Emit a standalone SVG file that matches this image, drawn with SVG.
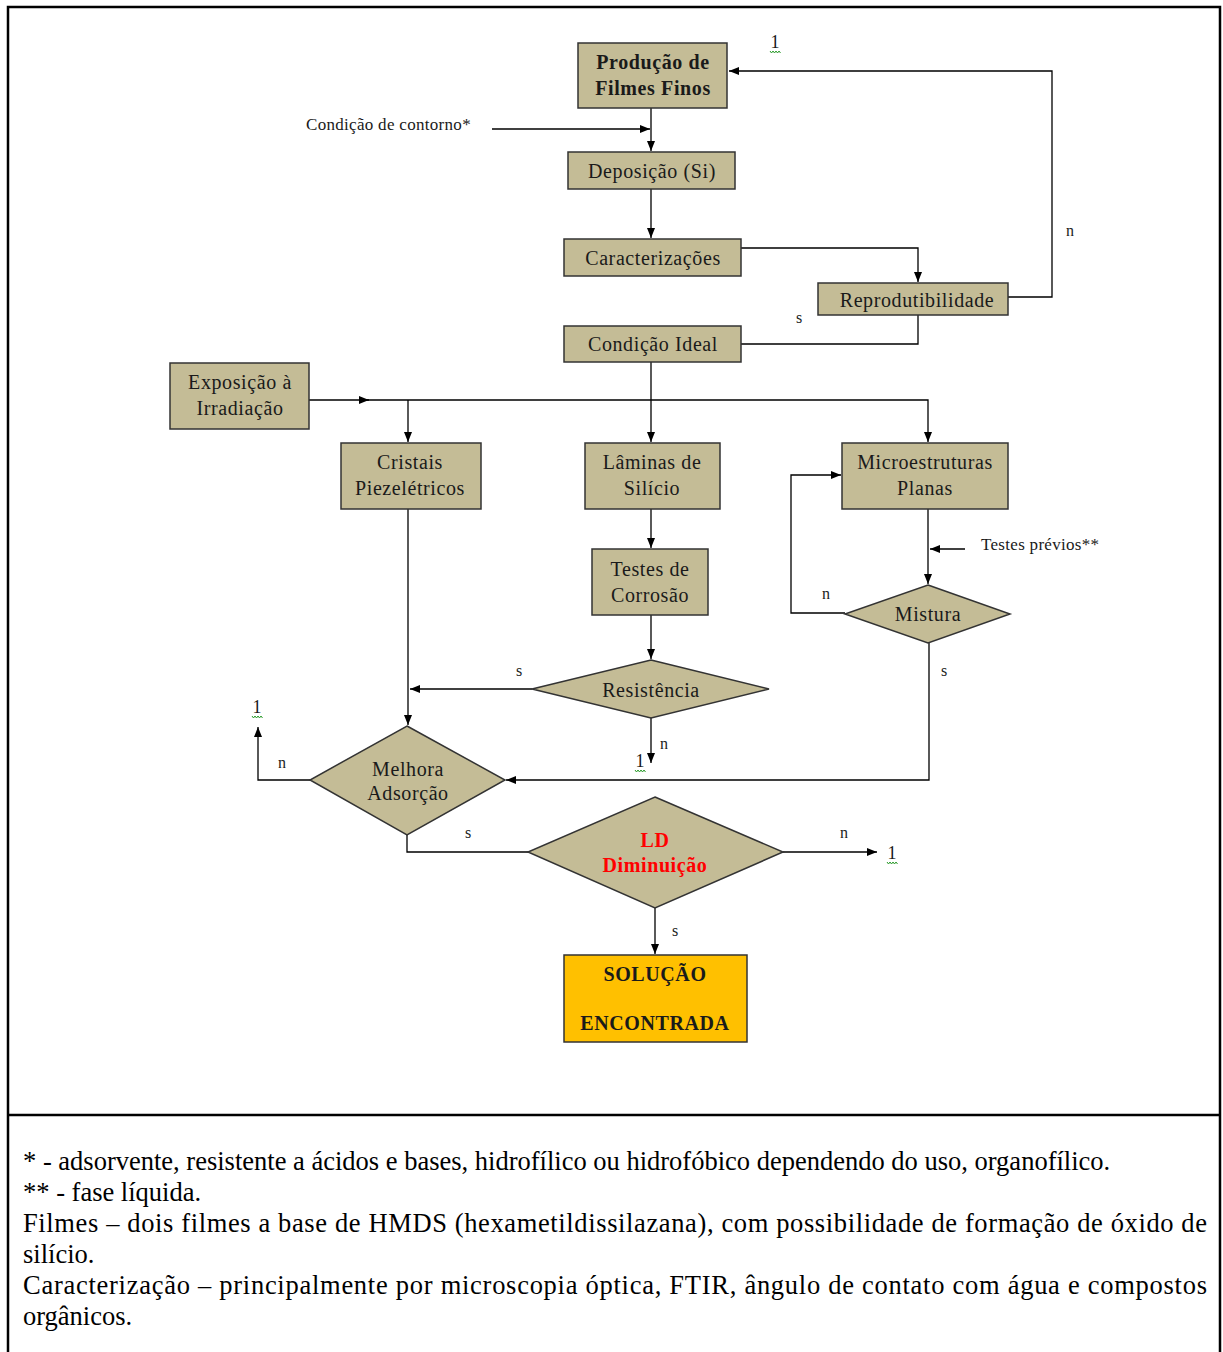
<svg xmlns="http://www.w3.org/2000/svg" width="1223" height="1352" viewBox="0 0 1223 1352">
<style>
.box{fill:#C4BC96;stroke:#333;stroke-width:1.5}
.sol{fill:#FFC000;stroke:#333;stroke-width:1.5}
.t{font-family:"Liberation Serif","Times New Roman",serif;font-size:20px;letter-spacing:0.6px;fill:#1a1a1a;text-anchor:middle}
.b{font-weight:bold}
.red{fill:#FF0000}
.lab{font-family:"Liberation Serif","Times New Roman",serif;font-size:16px;fill:#1a1a1a}
.sm{font-size:17px;letter-spacing:0.3px}
.one{font-family:"Liberation Serif","Times New Roman",serif;font-size:18px;fill:#1a1a1a;text-anchor:middle}
.sq{fill:none;stroke:#2a9a2a;stroke-width:1}
.c{fill:none;stroke:#000;stroke-width:1.3}
.foot{font-family:"Liberation Serif","Times New Roman",serif;font-size:26.5px;fill:#000}
</style>
<defs>
<marker id="ar" viewBox="0 0 10 8" refX="10" refY="4" markerWidth="10" markerHeight="8" markerUnits="userSpaceOnUse" orient="auto">
<path d="M0,0 L10,4 L0,8 Z" fill="#000"/>
</marker>
</defs>
<rect width="1223" height="1352" fill="#fff"/>
<g id="frame" fill="none" stroke="#000" stroke-width="2.5">
<path d="M8,1352 V7 H1220 V1352"/>
<path d="M8,1115 H1220"/>
</g>

<g id="connectors">
<path class="c" d="M492,129 H650" marker-end="url(#ar)"/>
<path class="c" d="M651,108 V151" marker-end="url(#ar)"/>
<path class="c" d="M651,189 V238" marker-end="url(#ar)"/>
<path class="c" d="M741,248 H918 V282" marker-end="url(#ar)"/>
<path class="c" d="M1008,297 H1052 V71 H729" marker-end="url(#ar)"/>
<path class="c" d="M918,315 V344 H741"/>
<path class="c" d="M651,362 V442" marker-end="url(#ar)"/>
<path class="c" d="M309,400 H369" marker-end="url(#ar)"/>
<path class="c" d="M365,400 H928 V442" marker-end="url(#ar)"/>
<path class="c" d="M408,400 V442" marker-end="url(#ar)"/>
<path class="c" d="M651,509 V548" marker-end="url(#ar)"/>
<path class="c" d="M651,615 V659" marker-end="url(#ar)"/>
<path class="c" d="M532,689 H410" marker-end="url(#ar)"/>
<path class="c" d="M651,718 V763" marker-end="url(#ar)"/>
<path class="c" d="M408,509 L408,725" marker-end="url(#ar)"/>
<path class="c" d="M310,780 H258 V727" marker-end="url(#ar)"/>
<path class="c" d="M928,509 V584" marker-end="url(#ar)"/>
<path class="c" d="M965,549 H930" marker-end="url(#ar)"/>
<path class="c" d="M845,613 H791 V475 H841" marker-end="url(#ar)"/>
<path class="c" d="M929,643 V780 H506" marker-end="url(#ar)"/>
<path class="c" d="M407,835 V852 H528"/>
<path class="c" d="M783,852 H877" marker-end="url(#ar)"/>
<path class="c" d="M655,908 V954" marker-end="url(#ar)"/>
</g>

<g id="labels">
<text class="lab sm" x="306" y="130">Condição de contorno*</text>
<text class="lab" x="1066" y="236">n</text>
<text class="lab" x="796" y="323">s</text>
<text class="lab sm" x="981" y="550">Testes prévios**</text>
<text class="lab" x="822" y="599">n</text>
<text class="lab" x="941" y="676">s</text>
<text class="lab" x="516" y="676">s</text>
<text class="lab" x="660" y="749">n</text>
<text class="lab" x="278" y="768">n</text>
<text class="lab" x="465" y="838">s</text>
<text class="lab" x="840" y="838">n</text>
<text class="lab" x="672" y="936">s</text>
<text class="one" x="775" y="48">1</text>
<path class="sq" d="M770,51 l1.5,2 1.5,-2 1.5,2 1.5,-2 1.5,2 1.5,-2 1.5,2"/>
<text class="one" x="640" y="767">1</text>
<path class="sq" d="M635,770 l1.5,2 1.5,-2 1.5,2 1.5,-2 1.5,2 1.5,-2 1.5,2"/>
<text class="one" x="257" y="713">1</text>
<path class="sq" d="M252,716 l1.5,2 1.5,-2 1.5,2 1.5,-2 1.5,2 1.5,-2 1.5,2"/>
<text class="one" x="892" y="859">1</text>
<path class="sq" d="M887,862 l1.5,2 1.5,-2 1.5,2 1.5,-2 1.5,2 1.5,-2 1.5,2"/>
</g>

<g id="n-producao"><rect class="box" x="578" y="43" width="149" height="65"/>
<text class="t b" x="653" y="69">Produção de</text><text class="t b" x="653" y="95">Filmes Finos</text></g>
<g id="n-deposicao"><rect class="box" x="568" y="152" width="167" height="37"/>
<text class="t" x="652" y="178">Deposição (Si)</text></g>
<g id="n-caracterizacoes"><rect class="box" x="564" y="239" width="177" height="37"/>
<text class="t" x="653" y="265">Caracterizações</text></g>
<g id="n-reprodutibilidade"><rect class="box" x="818" y="283" width="190" height="32"/>
<text class="t" x="917" y="307">Reprodutibilidade</text></g>
<g id="n-condicao-ideal"><rect class="box" x="564" y="326" width="177" height="36"/>
<text class="t" x="653" y="351">Condição Ideal</text></g>
<g id="n-exposicao"><rect class="box" x="170" y="363" width="139" height="66"/>
<text class="t" x="240" y="389">Exposição à</text><text class="t" x="240" y="415">Irradiação</text></g>
<g id="n-cristais"><rect class="box" x="341" y="443" width="140" height="66"/>
<text class="t" x="410" y="469">Cristais</text><text class="t" x="410" y="495">Piezelétricos</text></g>
<g id="n-laminas"><rect class="box" x="585" y="443" width="135" height="66"/>
<text class="t" x="652" y="469">Lâminas de</text><text class="t" x="652" y="495">Silício</text></g>
<g id="n-microestruturas"><rect class="box" x="842" y="443" width="166" height="66"/>
<text class="t" x="925" y="469">Microestruturas</text><text class="t" x="925" y="495">Planas</text></g>
<g id="n-testes-corrosao"><rect class="box" x="592" y="549" width="116" height="66"/>
<text class="t" x="650" y="576">Testes de</text><text class="t" x="650" y="602">Corrosão</text></g>
<g id="n-resistencia"><polygon class="box" points="651,660 769,689 651,718 532,689"/>
<text class="t" x="651" y="697">Resistência</text></g>
<g id="n-mistura"><polygon class="box" points="928,585 1010,614 928,643 845,614"/>
<text class="t" x="928" y="621">Mistura</text></g>
<g id="n-melhora"><polygon class="box" points="407,726 505,780 407,835 310,780"/>
<text class="t" x="408" y="776">Melhora</text><text class="t" x="408" y="800">Adsorção</text></g>
<g id="n-ld"><polygon class="box" points="655,797 783,852 655,908 528,852"/>
<text class="t b red" x="655" y="847">LD</text><text class="t b red" x="655" y="872">Diminuição</text></g>
<g id="n-solucao"><rect class="sol" x="564" y="955" width="183" height="87"/>
<text class="t b" x="655" y="981">SOLUÇÃO</text><text class="t b" x="655" y="1030">ENCONTRADA</text></g>

<g id="footnotes">
<text class="foot" x="23" y="1170">* - adsorvente, resistente a ácidos e bases, hidrofílico ou hidrofóbico dependendo do uso, organofílico.</text>
<text class="foot" x="23" y="1201">** - fase líquida.</text>
<text class="foot" x="23" y="1232" textLength="1184" lengthAdjust="spacing">Filmes – dois filmes a base de HMDS (hexametildissilazana), com possibilidade de formação de óxido de</text>
<text class="foot" x="23" y="1263">silício.</text>
<text class="foot" x="23" y="1294" textLength="1184" lengthAdjust="spacing">Caracterização – principalmente por microscopia óptica, FTIR, ângulo de contato com água e compostos</text>
<text class="foot" x="23" y="1325">orgânicos.</text>
</g>
</svg>
